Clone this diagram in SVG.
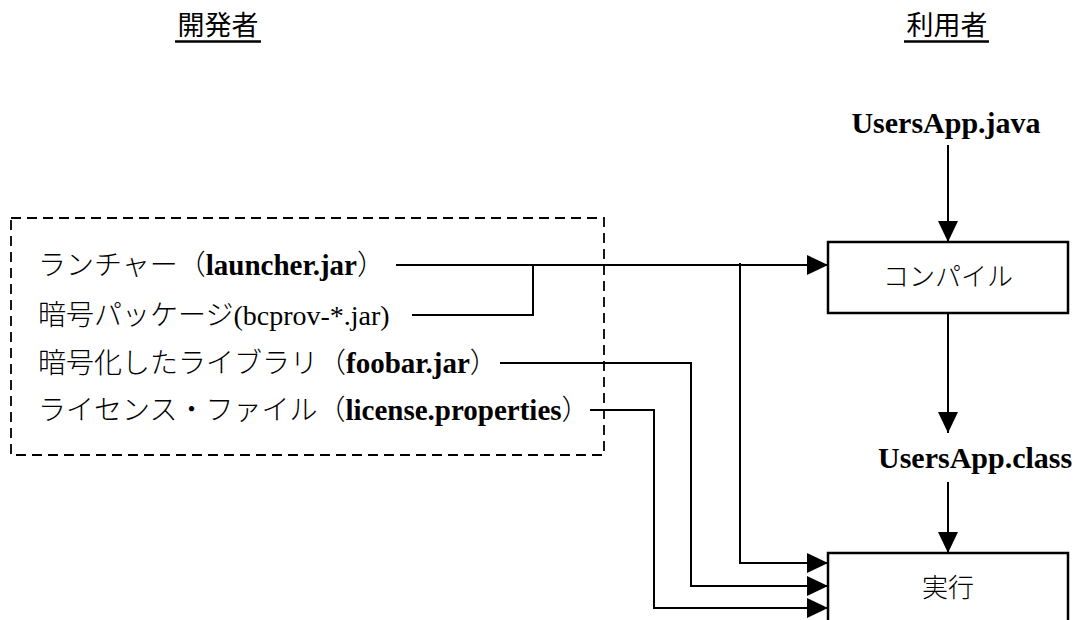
<svg xmlns="http://www.w3.org/2000/svg" width="1077" height="620" viewBox="0 0 1077 620">
<style>
.bg{fill:#fff}
.hdr{font-family:"Noto Sans CJK JP",sans-serif;font-size:27px;fill:#000}
.ul{stroke:#000;stroke-width:2.5}
.lbl{font-family:"Liberation Serif","Noto Sans CJK JP",serif;font-size:28px;fill:#000;font-weight:300}
.b{font-family:"Liberation Serif",serif;font-weight:bold;font-size:29px}
.big{font-family:"Liberation Serif",serif;font-weight:bold;font-size:30px;fill:#000}
.box{fill:#fff;stroke:#000;stroke-width:2.5}
.jp{font-family:"Noto Sans CJK JP",sans-serif;font-size:26px;font-weight:300;fill:#000}
.dash{fill:none;stroke:#000;stroke-width:1.8;stroke-dasharray:10 6}
.ln{fill:none;stroke:#000;stroke-width:2}
.arr{fill:none;stroke:#000;stroke-width:2;marker-end:url(#ah)}
</style>
<defs>
<marker id="ah" markerUnits="userSpaceOnUse" markerWidth="22" markerHeight="20" refX="21" refY="10" orient="auto" viewBox="0 0 22 20">
<path d="M0,0 L21,10 L0,20 Z" fill="#000"/>
</marker>
</defs>
<rect class="bg" x="0" y="0" width="1077" height="620"/>
<g id="header-developer">
<text class="hdr" x="218" y="35" text-anchor="middle">開発者</text>
<line class="ul" x1="175" y1="41.5" x2="261" y2="41.5"/>
</g>
<g id="header-user">
<text class="hdr" x="947" y="35" text-anchor="middle">利用者</text>
<line class="ul" x1="904" y1="41.5" x2="989" y2="41.5"/>
</g>
<g id="developer-files">
<rect class="dash" x="11" y="218" width="593" height="237"/>
<text id="launcher" class="lbl" x="38" y="275">ランチャー（<tspan class="b">launcher.jar</tspan>）</text>
<text id="bcprov" class="lbl" x="38" y="325">暗号パッケージ(bcprov-*.jar)</text>
<text id="foobar" class="lbl" x="38" y="373">暗号化したライブラリ（<tspan class="b">foobar.jar</tspan>）</text>
<text id="license" class="lbl" x="38" y="420">ライセンス・ファイル（<tspan class="b">license.properties</tspan>）</text>
</g>
<g id="usersapp-java">
<text class="big" x="946" y="133" text-anchor="middle">UsersApp.java</text>
</g>
<g id="compile">
<rect class="box" x="828" y="242" width="240" height="71"/>
<text class="jp" x="948" y="286" text-anchor="middle">コンパイル</text>
</g>
<g id="usersapp-class">
<text class="big" x="878" y="468">UsersApp.class</text>
</g>
<g id="run">
<rect class="box" x="828" y="553" width="240" height="80"/>
<text class="jp" x="948" y="597" text-anchor="middle">実行</text>
</g>
<g id="connectors">
<line class="arr" x1="948" y1="145" x2="948" y2="242"/>
<line class="arr" x1="948" y1="313" x2="948" y2="433"/>
<line class="arr" x1="948" y1="482" x2="948" y2="553"/>
<line class="arr" x1="396" y1="265" x2="828" y2="265"/>
<polyline class="ln" points="412,315 533,315 533,265"/>
<polyline class="arr" points="740,263 740,563 828,563"/>
<polyline class="arr" points="500,363 691,363 691,586 828,586"/>
<polyline class="arr" points="590,410 654,410 654,608 828,608"/>
</g>
</svg>
